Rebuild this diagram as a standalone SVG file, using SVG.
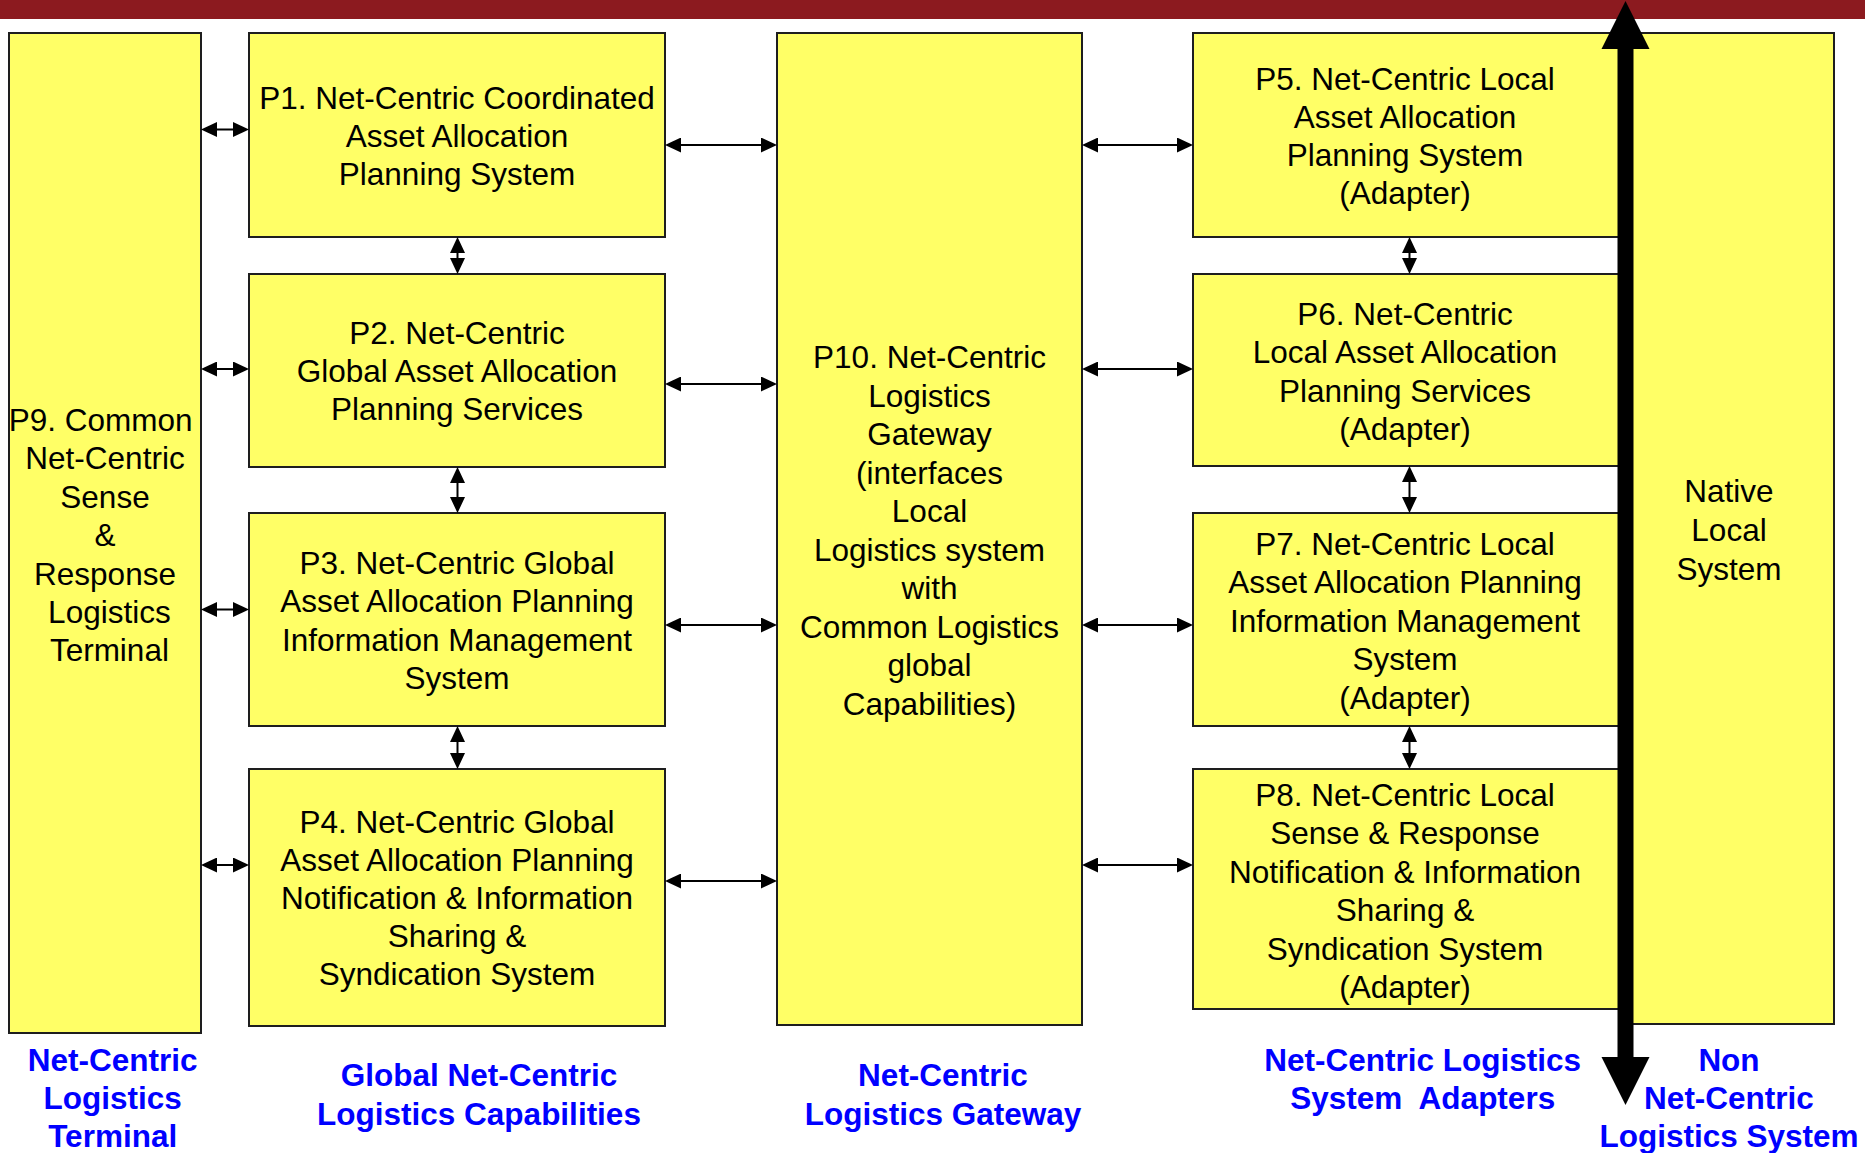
<svg xmlns="http://www.w3.org/2000/svg" width="1865" height="1153" viewBox="0 0 1865 1153">
  <style>
    .box { fill: #FFFF66; stroke: #1e1e1e; stroke-width: 2; }
    .t { font-family: "Liberation Sans", Arial, Helvetica, sans-serif; font-size: 31.5px; fill: #000; text-anchor: middle; }
    .lbl { font-family: "Liberation Sans", Arial, Helvetica, sans-serif; font-size: 31.5px; font-weight: bold; fill: #0000FF; text-anchor: middle; }
    .link { stroke: #000; stroke-width: 2; fill: none; marker-start: url(#head); marker-end: url(#head); }
  </style>
  <defs>
    <marker id="head" markerUnits="userSpaceOnUse" markerWidth="16" markerHeight="15" refX="0" refY="7.5" orient="auto-start-reverse" viewBox="0 0 16 15">
      <path d="M0,0 L16,7.5 L0,15 Z" fill="#000"/>
    </marker>
  </defs>

  <rect width="1865" height="1153" fill="#fff"/>
  <!-- title band -->
  <rect x="0" y="0" width="1865" height="19" fill="#8C1A1F"/>

  <!-- native local system (drawn first, right column boxes overlap its edge) -->
  <g id="native">
    <rect class="box" x="1625" y="33" width="209" height="991"/>
    <text class="t"><tspan x="1729" y="502">Native</tspan><tspan x="1729" y="541">Local</tspan><tspan x="1729" y="579.5">System</tspan></text>
  </g>

  <g id="p9">
    <rect class="box" x="9" y="33" width="192" height="1000"/>
    <text class="t"><tspan x="100.6" y="431">P9. Common</tspan><tspan x="105" y="469">Net-Centric</tspan><tspan x="105" y="507.5">Sense</tspan><tspan x="105" y="546">&amp;</tspan><tspan x="105" y="584.5">Response</tspan><tspan x="109.4" y="623">Logistics</tspan><tspan x="109.4" y="661">Terminal</tspan></text>
  </g>

  <g id="p1">
    <rect class="box" x="249" y="33" width="416" height="204"/>
    <text class="t"><tspan x="457" y="108.5">P1. Net-Centric Coordinated</tspan><tspan x="457" y="146.5">Asset Allocation</tspan><tspan x="457" y="184.5">Planning System</tspan></text>
  </g>
  <g id="p2">
    <rect class="box" x="249" y="274" width="416" height="193"/>
    <text class="t"><tspan x="457" y="344">P2. Net-Centric</tspan><tspan x="457" y="382">Global Asset Allocation</tspan><tspan x="457" y="420">Planning Services</tspan></text>
  </g>
  <g id="p3">
    <rect class="box" x="249" y="513" width="416" height="213"/>
    <text class="t"><tspan x="457" y="573.5">P3. Net-Centric Global</tspan><tspan x="457" y="612">Asset Allocation Planning</tspan><tspan x="457" y="650.5">Information Management</tspan><tspan x="457" y="689">System</tspan></text>
  </g>
  <g id="p4">
    <rect class="box" x="249" y="769" width="416" height="257"/>
    <text class="t"><tspan x="457" y="833">P4. Net-Centric Global</tspan><tspan x="457" y="871">Asset Allocation Planning</tspan><tspan x="457" y="909">Notification &amp; Information</tspan><tspan x="457" y="947">Sharing &amp;</tspan><tspan x="457" y="985">Syndication System</tspan></text>
  </g>

  <g id="p10">
    <rect class="box" x="777" y="33" width="305" height="992"/>
    <text class="t"><tspan x="929.5" y="368">P10. Net-Centric</tspan><tspan x="929.5" y="406.5">Logistics</tspan><tspan x="929.5" y="445">Gateway</tspan><tspan x="929.5" y="483.5">(interfaces</tspan><tspan x="929.5" y="522">Local</tspan><tspan x="929.5" y="560.5">Logistics system</tspan><tspan x="929.5" y="599">with</tspan><tspan x="929.5" y="637.5">Common Logistics</tspan><tspan x="929.5" y="676">global</tspan><tspan x="929.5" y="714.5">Capabilities)</tspan></text>
  </g>

  <g id="p5">
    <rect class="box" x="1193" y="33" width="432" height="204"/>
    <text class="t"><tspan x="1405" y="89.5">P5. Net-Centric Local</tspan><tspan x="1405" y="127.5">Asset Allocation</tspan><tspan x="1405" y="165.5">Planning System</tspan><tspan x="1405" y="204">(Adapter)</tspan></text>
  </g>
  <g id="p6">
    <rect class="box" x="1193" y="274" width="432" height="192"/>
    <text class="t"><tspan x="1405" y="325">P6. Net-Centric</tspan><tspan x="1405" y="363">Local Asset Allocation</tspan><tspan x="1405" y="401.5">Planning Services</tspan><tspan x="1405" y="440">(Adapter)</tspan></text>
  </g>
  <g id="p7">
    <rect class="box" x="1193" y="513" width="432" height="213"/>
    <text class="t"><tspan x="1405" y="554.5">P7. Net-Centric Local</tspan><tspan x="1405" y="593">Asset Allocation Planning</tspan><tspan x="1405" y="631.5">Information Management</tspan><tspan x="1405" y="670">System</tspan><tspan x="1405" y="708.5">(Adapter)</tspan></text>
  </g>
  <g id="p8">
    <rect class="box" x="1193" y="769" width="432" height="240"/>
    <text class="t"><tspan x="1405" y="805.5">P8. Net-Centric Local</tspan><tspan x="1405" y="844">Sense &amp; Response</tspan><tspan x="1405" y="882.5">Notification &amp; Information</tspan><tspan x="1405" y="921">Sharing &amp;</tspan><tspan x="1405" y="959.5">Syndication System</tspan><tspan x="1405" y="998">(Adapter)</tspan></text>
  </g>

  <g id="connectors">
    <!-- terminal to global capabilities -->
    <line class="link" x1="217" y1="129.5" x2="233" y2="129.5"/>
    <line class="link" x1="217" y1="369" x2="233" y2="369"/>
    <line class="link" x1="217" y1="609.5" x2="233" y2="609.5"/>
    <line class="link" x1="217" y1="865" x2="233" y2="865"/>
    <!-- global capabilities to gateway -->
    <line class="link" x1="681" y1="145" x2="761" y2="145"/>
    <line class="link" x1="681" y1="384" x2="761" y2="384"/>
    <line class="link" x1="681" y1="625" x2="761" y2="625"/>
    <line class="link" x1="681" y1="881" x2="761" y2="881"/>
    <!-- gateway to adapters -->
    <line class="link" x1="1098" y1="145" x2="1177" y2="145"/>
    <line class="link" x1="1098" y1="369" x2="1177" y2="369"/>
    <line class="link" x1="1098" y1="625" x2="1177" y2="625"/>
    <line class="link" x1="1098" y1="865" x2="1177" y2="865"/>
    <!-- stacked global capabilities -->
    <line class="link" x1="457.5" y1="253" x2="457.5" y2="258"/>
    <line class="link" x1="457.5" y1="483" x2="457.5" y2="497"/>
    <line class="link" x1="457.5" y1="742" x2="457.5" y2="753"/>
    <!-- stacked adapters -->
    <line class="link" x1="1409.5" y1="253" x2="1409.5" y2="258"/>
    <line class="link" x1="1409.5" y1="482" x2="1409.5" y2="497"/>
    <line class="link" x1="1409.5" y1="742" x2="1409.5" y2="753"/>
    <!-- boundary between net-centric and native systems -->
    <path d="M1625.5,1 L1649.5,49 L1633.5,49 L1633.5,1057 L1649.5,1057 L1625.5,1105 L1601.5,1057 L1617.5,1057 L1617.5,49 L1601.5,49 Z" fill="#000"/>
  </g>

  <g id="labels">
    <text class="lbl"><tspan x="112.7" y="1070.5">Net-Centric</tspan><tspan x="112.7" y="1109">Logistics</tspan><tspan x="112.7" y="1147">Terminal</tspan></text>
    <text class="lbl"><tspan x="479" y="1086">Global Net-Centric</tspan><tspan x="479" y="1125">Logistics Capabilities</tspan></text>
    <text class="lbl"><tspan x="943" y="1086">Net-Centric</tspan><tspan x="943" y="1125">Logistics Gateway</tspan></text>
    <text class="lbl" xml:space="preserve"><tspan x="1422.7" y="1070.5">Net-Centric Logistics</tspan><tspan x="1422.7" y="1109">System  Adapters</tspan></text>
    <text class="lbl"><tspan x="1729" y="1070.5">Non</tspan><tspan x="1729" y="1109">Net-Centric</tspan><tspan x="1729" y="1147">Logistics System</tspan></text>
  </g>
</svg>
